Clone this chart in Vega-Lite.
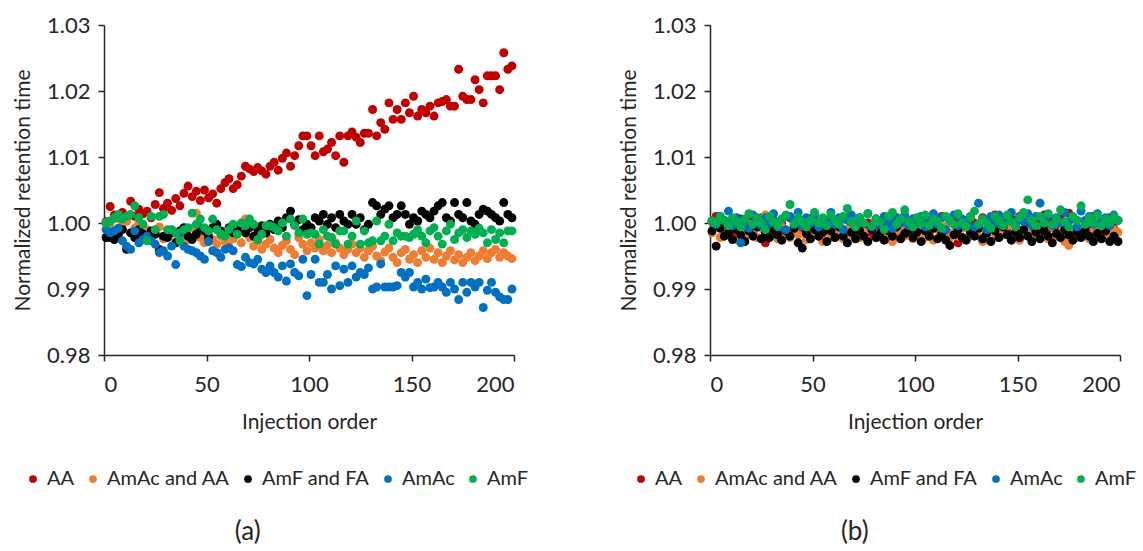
{
"$schema": "https://vega.github.io/schema/vega-lite/v6.json",
"padding": {"left": 12, "top": 14, "right": 0, "bottom": 5},
"background": "white",
"config": {
"font": "Lato",
"view": {"stroke": null},
"axis": {"domainColor": "#262626", "domainWidth": 1.5, "tickColor": "#262626", "tickWidth": 1.5, "tickSize": 6, "grid": false, "labelFont": "Lato", "labelFontSize": 22, "labelColor": "#262626", "titleFont": "Lato", "titleFontSize": 21, "titleFontWeight": "normal", "titleColor": "#262626"},
"axisX": {"labelPadding": 13, "titlePadding": 16},
"axisY": {"labelPadding": 8, "titlePadding": 13},
"legend": {"labelFont": "Lato", "labelFontSize": 20, "labelColor": "#262626", "symbolType": "circle", "symbolSize": 60, "symbolStrokeWidth": 0, "columnPadding": 8, "labelOffset": 4, "padding": 0, "gridAlign": "none"},
"title": {"font": "Lato", "fontSize": 26, "fontWeight": "normal", "color": "#262626"},
"concat": {"spacing": 89}
},
"resolve": {"legend": {"color": "independent"}},
"datasets": {
"a": [
{"series":"AA","inj":1,"rt":1.0002},{"series":"AA","inj":3,"rt":1.0025},{"series":"AA","inj":5,"rt":1.0012},{"series":"AA","inj":7,"rt":1.0008},{"series":"AA","inj":9,"rt":1.0016},{"series":"AA","inj":11,"rt":1.0003},{"series":"AA","inj":13,"rt":1.0033},{"series":"AA","inj":15,"rt":1.0010},{"series":"AA","inj":17,"rt":1.0021},{"series":"AA","inj":19,"rt":1.0014},
{"series":"AA","inj":21,"rt":1.0018},{"series":"AA","inj":23,"rt":1.0008},{"series":"AA","inj":25,"rt":1.0028},{"series":"AA","inj":27,"rt":1.0046},{"series":"AA","inj":29,"rt":1.0022},{"series":"AA","inj":31,"rt":1.0030},{"series":"AA","inj":33,"rt":1.0019},{"series":"AA","inj":35,"rt":1.0037},{"series":"AA","inj":37,"rt":1.0026},{"series":"AA","inj":39,"rt":1.0045},
{"series":"AA","inj":41,"rt":1.0056},{"series":"AA","inj":43,"rt":1.0040},{"series":"AA","inj":45,"rt":1.0048},{"series":"AA","inj":47,"rt":1.0034},{"series":"AA","inj":49,"rt":1.0050},{"series":"AA","inj":51,"rt":1.0038},{"series":"AA","inj":53,"rt":1.0044},{"series":"AA","inj":55,"rt":1.0030},{"series":"AA","inj":57,"rt":1.0052},{"series":"AA","inj":59,"rt":1.0061},
{"series":"AA","inj":61,"rt":1.0067},{"series":"AA","inj":63,"rt":1.0052},{"series":"AA","inj":65,"rt":1.0058},{"series":"AA","inj":67,"rt":1.0071},{"series":"AA","inj":69,"rt":1.0086},{"series":"AA","inj":71,"rt":1.0082},{"series":"AA","inj":73,"rt":1.0078},{"series":"AA","inj":75,"rt":1.0084},{"series":"AA","inj":77,"rt":1.0079},{"series":"AA","inj":79,"rt":1.0074},
{"series":"AA","inj":81,"rt":1.0086},{"series":"AA","inj":83,"rt":1.0092},{"series":"AA","inj":85,"rt":1.0080},{"series":"AA","inj":87,"rt":1.0098},{"series":"AA","inj":89,"rt":1.0106},{"series":"AA","inj":91,"rt":1.0086},{"series":"AA","inj":93,"rt":1.0102},{"series":"AA","inj":95,"rt":1.0117},{"series":"AA","inj":97,"rt":1.0132},{"series":"AA","inj":99,"rt":1.0132},
{"series":"AA","inj":101,"rt":1.0117},{"series":"AA","inj":103,"rt":1.0102},{"series":"AA","inj":105,"rt":1.0132},{"series":"AA","inj":107,"rt":1.0108},{"series":"AA","inj":109,"rt":1.0112},{"series":"AA","inj":111,"rt":1.0122},{"series":"AA","inj":113,"rt":1.0102},{"series":"AA","inj":115,"rt":1.0132},{"series":"AA","inj":117,"rt":1.0092},{"series":"AA","inj":119,"rt":1.0132},
{"series":"AA","inj":121,"rt":1.0138},{"series":"AA","inj":123,"rt":1.0130},{"series":"AA","inj":125,"rt":1.0122},{"series":"AA","inj":127,"rt":1.0136},{"series":"AA","inj":129,"rt":1.0136},{"series":"AA","inj":131,"rt":1.0172},{"series":"AA","inj":133,"rt":1.0132},{"series":"AA","inj":135,"rt":1.0152},{"series":"AA","inj":137,"rt":1.0142},{"series":"AA","inj":139,"rt":1.0182},
{"series":"AA","inj":141,"rt":1.0157},{"series":"AA","inj":143,"rt":1.0172},{"series":"AA","inj":145,"rt":1.0157},{"series":"AA","inj":147,"rt":1.0182},{"series":"AA","inj":149,"rt":1.0167},{"series":"AA","inj":151,"rt":1.0192},{"series":"AA","inj":153,"rt":1.0162},{"series":"AA","inj":155,"rt":1.0172},{"series":"AA","inj":157,"rt":1.0167},{"series":"AA","inj":159,"rt":1.0177},
{"series":"AA","inj":161,"rt":1.0162},{"series":"AA","inj":163,"rt":1.0182},{"series":"AA","inj":165,"rt":1.0184},{"series":"AA","inj":167,"rt":1.0187},{"series":"AA","inj":169,"rt":1.0177},{"series":"AA","inj":171,"rt":1.0177},{"series":"AA","inj":173,"rt":1.0233},{"series":"AA","inj":175,"rt":1.0192},{"series":"AA","inj":177,"rt":1.0187},{"series":"AA","inj":179,"rt":1.0187},
{"series":"AA","inj":181,"rt":1.0217},{"series":"AA","inj":183,"rt":1.0202},{"series":"AA","inj":185,"rt":1.0182},{"series":"AA","inj":187,"rt":1.0223},{"series":"AA","inj":189,"rt":1.0223},{"series":"AA","inj":191,"rt":1.0223},{"series":"AA","inj":193,"rt":1.0202},{"series":"AA","inj":195,"rt":1.0258},{"series":"AA","inj":197,"rt":1.0233},{"series":"AA","inj":199,"rt":1.0238},
{"series":"AmAc and AA","inj":1,"rt":1.0000},{"series":"AmAc and AA","inj":3,"rt":0.9995},{"series":"AmAc and AA","inj":5,"rt":1.0006},{"series":"AmAc and AA","inj":7,"rt":0.9990},{"series":"AmAc and AA","inj":9,"rt":0.9998},{"series":"AmAc and AA","inj":11,"rt":1.0003},{"series":"AmAc and AA","inj":13,"rt":0.9985},{"series":"AmAc and AA","inj":15,"rt":0.9992},{"series":"AmAc and AA","inj":17,"rt":0.9999},{"series":"AmAc and AA","inj":19,"rt":0.9982},
{"series":"AmAc and AA","inj":21,"rt":0.9990},{"series":"AmAc and AA","inj":23,"rt":0.9978},{"series":"AmAc and AA","inj":25,"rt":0.9986},{"series":"AmAc and AA","inj":27,"rt":0.9994},{"series":"AmAc and AA","inj":29,"rt":0.9976},{"series":"AmAc and AA","inj":31,"rt":0.9983},{"series":"AmAc and AA","inj":33,"rt":0.9990},{"series":"AmAc and AA","inj":35,"rt":0.9972},{"series":"AmAc and AA","inj":37,"rt":0.9980},{"series":"AmAc and AA","inj":39,"rt":0.9987},
{"series":"AmAc and AA","inj":41,"rt":0.9975},{"series":"AmAc and AA","inj":43,"rt":0.9992},{"series":"AmAc and AA","inj":45,"rt":1.0015},{"series":"AmAc and AA","inj":47,"rt":0.9978},{"series":"AmAc and AA","inj":49,"rt":0.9970},{"series":"AmAc and AA","inj":51,"rt":0.9982},{"series":"AmAc and AA","inj":53,"rt":0.9975},{"series":"AmAc and AA","inj":55,"rt":0.9968},{"series":"AmAc and AA","inj":57,"rt":0.9980},{"series":"AmAc and AA","inj":59,"rt":0.9972},
{"series":"AmAc and AA","inj":61,"rt":0.9965},{"series":"AmAc and AA","inj":63,"rt":0.9976},{"series":"AmAc and AA","inj":65,"rt":0.9988},{"series":"AmAc and AA","inj":67,"rt":0.9970},{"series":"AmAc and AA","inj":69,"rt":1.0006},{"series":"AmAc and AA","inj":71,"rt":0.9978},{"series":"AmAc and AA","inj":73,"rt":0.9965},{"series":"AmAc and AA","inj":75,"rt":0.9972},{"series":"AmAc and AA","inj":77,"rt":0.9960},{"series":"AmAc and AA","inj":79,"rt":0.9968},
{"series":"AmAc and AA","inj":81,"rt":0.9975},{"series":"AmAc and AA","inj":83,"rt":0.9962},{"series":"AmAc and AA","inj":85,"rt":0.9955},{"series":"AmAc and AA","inj":87,"rt":0.9966},{"series":"AmAc and AA","inj":89,"rt":0.9973},{"series":"AmAc and AA","inj":91,"rt":0.9960},{"series":"AmAc and AA","inj":93,"rt":0.9952},{"series":"AmAc and AA","inj":95,"rt":0.9978},{"series":"AmAc and AA","inj":97,"rt":0.9968},{"series":"AmAc and AA","inj":99,"rt":0.9958},
{"series":"AmAc and AA","inj":101,"rt":0.9970},{"series":"AmAc and AA","inj":103,"rt":0.9962},{"series":"AmAc and AA","inj":105,"rt":0.9975},{"series":"AmAc and AA","inj":107,"rt":0.9958},{"series":"AmAc and AA","inj":109,"rt":0.9966},{"series":"AmAc and AA","inj":111,"rt":0.9955},{"series":"AmAc and AA","inj":113,"rt":0.9970},{"series":"AmAc and AA","inj":115,"rt":0.9962},{"series":"AmAc and AA","inj":117,"rt":0.9952},{"series":"AmAc and AA","inj":119,"rt":0.9960},
{"series":"AmAc and AA","inj":121,"rt":0.9968},{"series":"AmAc and AA","inj":123,"rt":0.9955},{"series":"AmAc and AA","inj":125,"rt":0.9962},{"series":"AmAc and AA","inj":127,"rt":0.9948},{"series":"AmAc and AA","inj":129,"rt":0.9958},{"series":"AmAc and AA","inj":131,"rt":0.9965},{"series":"AmAc and AA","inj":133,"rt":0.9950},{"series":"AmAc and AA","inj":135,"rt":0.9943},{"series":"AmAc and AA","inj":137,"rt":0.9956},{"series":"AmAc and AA","inj":139,"rt":0.9962},
{"series":"AmAc and AA","inj":141,"rt":0.9948},{"series":"AmAc and AA","inj":143,"rt":0.9940},{"series":"AmAc and AA","inj":145,"rt":0.9955},{"series":"AmAc and AA","inj":147,"rt":0.9960},{"series":"AmAc and AA","inj":149,"rt":0.9945},{"series":"AmAc and AA","inj":151,"rt":0.9952},{"series":"AmAc and AA","inj":153,"rt":0.9940},{"series":"AmAc and AA","inj":155,"rt":0.9958},{"series":"AmAc and AA","inj":157,"rt":0.9948},{"series":"AmAc and AA","inj":159,"rt":0.9962},
{"series":"AmAc and AA","inj":161,"rt":0.9945},{"series":"AmAc and AA","inj":163,"rt":0.9955},{"series":"AmAc and AA","inj":165,"rt":0.9940},{"series":"AmAc and AA","inj":167,"rt":0.9950},{"series":"AmAc and AA","inj":169,"rt":0.9958},{"series":"AmAc and AA","inj":171,"rt":0.9944},{"series":"AmAc and AA","inj":173,"rt":0.9952},{"series":"AmAc and AA","inj":175,"rt":0.9940},{"series":"AmAc and AA","inj":177,"rt":0.9948},{"series":"AmAc and AA","inj":179,"rt":0.9955},
{"series":"AmAc and AA","inj":181,"rt":0.9943},{"series":"AmAc and AA","inj":183,"rt":0.9950},{"series":"AmAc and AA","inj":185,"rt":0.9958},{"series":"AmAc and AA","inj":187,"rt":0.9946},{"series":"AmAc and AA","inj":189,"rt":0.9955},{"series":"AmAc and AA","inj":191,"rt":0.9960},{"series":"AmAc and AA","inj":193,"rt":0.9948},{"series":"AmAc and AA","inj":195,"rt":0.9955},{"series":"AmAc and AA","inj":197,"rt":0.9950},{"series":"AmAc and AA","inj":199,"rt":0.9946},
{"series":"AmF and FA","inj":1,"rt":0.9978},{"series":"AmF and FA","inj":3,"rt":0.9978},{"series":"AmF and FA","inj":5,"rt":0.9975},{"series":"AmF and FA","inj":7,"rt":0.9983},{"series":"AmF and FA","inj":9,"rt":0.9990},{"series":"AmF and FA","inj":11,"rt":0.9960},{"series":"AmF and FA","inj":13,"rt":0.9985},{"series":"AmF and FA","inj":15,"rt":0.9978},{"series":"AmF and FA","inj":17,"rt":0.9990},{"series":"AmF and FA","inj":19,"rt":0.9983},
{"series":"AmF and FA","inj":21,"rt":0.9975},{"series":"AmF and FA","inj":23,"rt":0.9988},{"series":"AmF and FA","inj":25,"rt":0.9983},{"series":"AmF and FA","inj":27,"rt":0.9960},{"series":"AmF and FA","inj":29,"rt":0.9980},{"series":"AmF and FA","inj":31,"rt":0.9978},{"series":"AmF and FA","inj":33,"rt":0.9985},{"series":"AmF and FA","inj":35,"rt":0.9970},{"series":"AmF and FA","inj":37,"rt":0.9988},{"series":"AmF and FA","inj":39,"rt":0.9993},
{"series":"AmF and FA","inj":41,"rt":0.9980},{"series":"AmF and FA","inj":43,"rt":0.9975},{"series":"AmF and FA","inj":45,"rt":0.9983},{"series":"AmF and FA","inj":47,"rt":0.9993},{"series":"AmF and FA","inj":49,"rt":0.9988},{"series":"AmF and FA","inj":51,"rt":0.9978},{"series":"AmF and FA","inj":53,"rt":0.9993},{"series":"AmF and FA","inj":55,"rt":0.9998},{"series":"AmF and FA","inj":57,"rt":0.9988},{"series":"AmF and FA","inj":59,"rt":0.9983},
{"series":"AmF and FA","inj":61,"rt":0.9993},{"series":"AmF and FA","inj":63,"rt":0.9985},{"series":"AmF and FA","inj":65,"rt":0.9990},{"series":"AmF and FA","inj":67,"rt":0.9998},{"series":"AmF and FA","inj":69,"rt":0.9985},{"series":"AmF and FA","inj":71,"rt":0.9993},{"series":"AmF and FA","inj":73,"rt":0.9980},{"series":"AmF and FA","inj":75,"rt":0.9990},{"series":"AmF and FA","inj":77,"rt":0.9996},{"series":"AmF and FA","inj":79,"rt":0.9985},
{"series":"AmF and FA","inj":81,"rt":0.9998},{"series":"AmF and FA","inj":83,"rt":0.9990},{"series":"AmF and FA","inj":85,"rt":1.0003},{"series":"AmF and FA","inj":87,"rt":0.9993},{"series":"AmF and FA","inj":89,"rt":1.0008},{"series":"AmF and FA","inj":91,"rt":1.0018},{"series":"AmF and FA","inj":93,"rt":0.9998},{"series":"AmF and FA","inj":95,"rt":1.0005},{"series":"AmF and FA","inj":97,"rt":0.9990},{"series":"AmF and FA","inj":99,"rt":0.9998},
{"series":"AmF and FA","inj":101,"rt":0.9993},{"series":"AmF and FA","inj":103,"rt":1.0008},{"series":"AmF and FA","inj":105,"rt":1.0003},{"series":"AmF and FA","inj":107,"rt":1.0013},{"series":"AmF and FA","inj":109,"rt":0.9998},{"series":"AmF and FA","inj":111,"rt":1.0008},{"series":"AmF and FA","inj":113,"rt":0.9993},{"series":"AmF and FA","inj":115,"rt":1.0013},{"series":"AmF and FA","inj":117,"rt":1.0003},{"series":"AmF and FA","inj":119,"rt":0.9998},
{"series":"AmF and FA","inj":121,"rt":1.0013},{"series":"AmF and FA","inj":123,"rt":0.9998},{"series":"AmF and FA","inj":125,"rt":1.0008},{"series":"AmF and FA","inj":127,"rt":0.9990},{"series":"AmF and FA","inj":129,"rt":0.9998},{"series":"AmF and FA","inj":131,"rt":1.0031},{"series":"AmF and FA","inj":133,"rt":1.0026},{"series":"AmF and FA","inj":135,"rt":1.0013},{"series":"AmF and FA","inj":137,"rt":1.0021},{"series":"AmF and FA","inj":139,"rt":1.0026},
{"series":"AmF and FA","inj":141,"rt":1.0008},{"series":"AmF and FA","inj":143,"rt":1.0013},{"series":"AmF and FA","inj":145,"rt":1.0026},{"series":"AmF and FA","inj":147,"rt":1.0013},{"series":"AmF and FA","inj":149,"rt":0.9998},{"series":"AmF and FA","inj":151,"rt":1.0008},{"series":"AmF and FA","inj":153,"rt":1.0003},{"series":"AmF and FA","inj":155,"rt":1.0018},{"series":"AmF and FA","inj":157,"rt":1.0013},{"series":"AmF and FA","inj":159,"rt":1.0008},
{"series":"AmF and FA","inj":161,"rt":1.0018},{"series":"AmF and FA","inj":163,"rt":1.0026},{"series":"AmF and FA","inj":165,"rt":1.0031},{"series":"AmF and FA","inj":167,"rt":1.0008},{"series":"AmF and FA","inj":169,"rt":1.0003},{"series":"AmF and FA","inj":171,"rt":1.0031},{"series":"AmF and FA","inj":173,"rt":1.0013},{"series":"AmF and FA","inj":175,"rt":1.0008},{"series":"AmF and FA","inj":177,"rt":1.0031},{"series":"AmF and FA","inj":179,"rt":1.0003},
{"series":"AmF and FA","inj":181,"rt":0.9998},{"series":"AmF and FA","inj":183,"rt":1.0013},{"series":"AmF and FA","inj":185,"rt":1.0021},{"series":"AmF and FA","inj":187,"rt":1.0018},{"series":"AmF and FA","inj":189,"rt":1.0013},{"series":"AmF and FA","inj":191,"rt":1.0008},{"series":"AmF and FA","inj":193,"rt":1.0003},{"series":"AmF and FA","inj":195,"rt":1.0031},{"series":"AmF and FA","inj":197,"rt":1.0013},{"series":"AmF and FA","inj":199,"rt":1.0008},
{"series":"AmAc","inj":1,"rt":0.9990},{"series":"AmAc","inj":3,"rt":0.9985},{"series":"AmAc","inj":5,"rt":0.9988},{"series":"AmAc","inj":7,"rt":0.9992},{"series":"AmAc","inj":9,"rt":0.9973},{"series":"AmAc","inj":11,"rt":0.9965},{"series":"AmAc","inj":13,"rt":0.9960},{"series":"AmAc","inj":15,"rt":0.9988},{"series":"AmAc","inj":17,"rt":0.9970},{"series":"AmAc","inj":19,"rt":0.9975},
{"series":"AmAc","inj":21,"rt":0.9980},{"series":"AmAc","inj":23,"rt":0.9973},{"series":"AmAc","inj":25,"rt":0.9968},{"series":"AmAc","inj":27,"rt":0.9955},{"series":"AmAc","inj":29,"rt":0.9958},{"series":"AmAc","inj":31,"rt":0.9950},{"series":"AmAc","inj":33,"rt":0.9965},{"series":"AmAc","inj":35,"rt":0.9937},{"series":"AmAc","inj":37,"rt":0.9985},{"series":"AmAc","inj":39,"rt":0.9965},
{"series":"AmAc","inj":41,"rt":0.9960},{"series":"AmAc","inj":43,"rt":0.9958},{"series":"AmAc","inj":45,"rt":0.9955},{"series":"AmAc","inj":47,"rt":0.9950},{"series":"AmAc","inj":49,"rt":0.9945},{"series":"AmAc","inj":51,"rt":0.9972},{"series":"AmAc","inj":53,"rt":0.9958},{"series":"AmAc","inj":55,"rt":0.9955},{"series":"AmAc","inj":57,"rt":0.9948},{"series":"AmAc","inj":59,"rt":0.9960},
{"series":"AmAc","inj":61,"rt":0.9962},{"series":"AmAc","inj":63,"rt":0.9958},{"series":"AmAc","inj":65,"rt":0.9937},{"series":"AmAc","inj":67,"rt":0.9934},{"series":"AmAc","inj":69,"rt":0.9948},{"series":"AmAc","inj":71,"rt":0.9940},{"series":"AmAc","inj":73,"rt":0.9938},{"series":"AmAc","inj":75,"rt":0.9945},{"series":"AmAc","inj":77,"rt":0.9930},{"series":"AmAc","inj":79,"rt":0.9925},
{"series":"AmAc","inj":81,"rt":0.9935},{"series":"AmAc","inj":83,"rt":0.9925},{"series":"AmAc","inj":85,"rt":0.9918},{"series":"AmAc","inj":87,"rt":0.9935},{"series":"AmAc","inj":89,"rt":0.9912},{"series":"AmAc","inj":91,"rt":0.9938},{"series":"AmAc","inj":93,"rt":0.9925},{"series":"AmAc","inj":95,"rt":0.9920},{"series":"AmAc","inj":97,"rt":0.9945},{"series":"AmAc","inj":99,"rt":0.9890},
{"series":"AmAc","inj":101,"rt":0.9922},{"series":"AmAc","inj":103,"rt":0.9945},{"series":"AmAc","inj":105,"rt":0.9910},{"series":"AmAc","inj":107,"rt":0.9910},{"series":"AmAc","inj":109,"rt":0.9922},{"series":"AmAc","inj":111,"rt":0.9900},{"series":"AmAc","inj":113,"rt":0.9935},{"series":"AmAc","inj":115,"rt":0.9905},{"series":"AmAc","inj":117,"rt":0.9930},{"series":"AmAc","inj":119,"rt":0.9910},
{"series":"AmAc","inj":121,"rt":0.9935},{"series":"AmAc","inj":123,"rt":0.9918},{"series":"AmAc","inj":125,"rt":0.9925},{"series":"AmAc","inj":127,"rt":0.9922},{"series":"AmAc","inj":129,"rt":0.9932},{"series":"AmAc","inj":131,"rt":0.9900},{"series":"AmAc","inj":133,"rt":0.9903},{"series":"AmAc","inj":135,"rt":0.9938},{"series":"AmAc","inj":137,"rt":0.9903},{"series":"AmAc","inj":139,"rt":0.9903},
{"series":"AmAc","inj":141,"rt":0.9903},{"series":"AmAc","inj":143,"rt":0.9905},{"series":"AmAc","inj":145,"rt":0.9925},{"series":"AmAc","inj":147,"rt":0.9918},{"series":"AmAc","inj":149,"rt":0.9925},{"series":"AmAc","inj":151,"rt":0.9903},{"series":"AmAc","inj":153,"rt":0.9910},{"series":"AmAc","inj":155,"rt":0.9900},{"series":"AmAc","inj":157,"rt":0.9915},{"series":"AmAc","inj":159,"rt":0.9902},
{"series":"AmAc","inj":161,"rt":0.9903},{"series":"AmAc","inj":163,"rt":0.9910},{"series":"AmAc","inj":165,"rt":0.9903},{"series":"AmAc","inj":167,"rt":0.9895},{"series":"AmAc","inj":169,"rt":0.9910},{"series":"AmAc","inj":171,"rt":0.9900},{"series":"AmAc","inj":173,"rt":0.9884},{"series":"AmAc","inj":175,"rt":0.9910},{"series":"AmAc","inj":177,"rt":0.9895},{"series":"AmAc","inj":179,"rt":0.9910},
{"series":"AmAc","inj":181,"rt":0.9903},{"series":"AmAc","inj":183,"rt":0.9910},{"series":"AmAc","inj":185,"rt":0.9872},{"series":"AmAc","inj":187,"rt":0.9898},{"series":"AmAc","inj":189,"rt":0.9910},{"series":"AmAc","inj":191,"rt":0.9895},{"series":"AmAc","inj":193,"rt":0.9888},{"series":"AmAc","inj":195,"rt":0.9884},{"series":"AmAc","inj":197,"rt":0.9884},{"series":"AmAc","inj":199,"rt":0.9900},
{"series":"AmF","inj":1,"rt":1.0000},{"series":"AmF","inj":3,"rt":1.0003},{"series":"AmF","inj":5,"rt":1.0008},{"series":"AmF","inj":7,"rt":1.0013},{"series":"AmF","inj":9,"rt":1.0006},{"series":"AmF","inj":11,"rt":1.0010},{"series":"AmF","inj":13,"rt":1.0013},{"series":"AmF","inj":15,"rt":1.0026},{"series":"AmF","inj":17,"rt":1.0008},{"series":"AmF","inj":19,"rt":0.9998},
{"series":"AmF","inj":21,"rt":0.9973},{"series":"AmF","inj":23,"rt":1.0010},{"series":"AmF","inj":25,"rt":0.9990},{"series":"AmF","inj":27,"rt":1.0010},{"series":"AmF","inj":29,"rt":1.0013},{"series":"AmF","inj":31,"rt":0.9990},{"series":"AmF","inj":33,"rt":0.9990},{"series":"AmF","inj":35,"rt":0.9985},{"series":"AmF","inj":37,"rt":0.9973},{"series":"AmF","inj":39,"rt":0.9990},
{"series":"AmF","inj":41,"rt":0.9993},{"series":"AmF","inj":43,"rt":1.0015},{"series":"AmF","inj":45,"rt":0.9998},{"series":"AmF","inj":47,"rt":1.0006},{"series":"AmF","inj":49,"rt":0.9993},{"series":"AmF","inj":51,"rt":0.9988},{"series":"AmF","inj":53,"rt":1.0006},{"series":"AmF","inj":55,"rt":0.9990},{"series":"AmF","inj":57,"rt":0.9983},{"series":"AmF","inj":59,"rt":0.9980},
{"series":"AmF","inj":61,"rt":0.9990},{"series":"AmF","inj":63,"rt":0.9998},{"series":"AmF","inj":65,"rt":0.9983},{"series":"AmF","inj":67,"rt":1.0000},{"series":"AmF","inj":69,"rt":0.9996},{"series":"AmF","inj":71,"rt":1.0006},{"series":"AmF","inj":73,"rt":0.9998},{"series":"AmF","inj":75,"rt":0.9975},{"series":"AmF","inj":77,"rt":0.9983},{"series":"AmF","inj":79,"rt":0.9996},
{"series":"AmF","inj":81,"rt":0.9996},{"series":"AmF","inj":83,"rt":0.9993},{"series":"AmF","inj":85,"rt":0.9988},{"series":"AmF","inj":87,"rt":1.0000},{"series":"AmF","inj":89,"rt":0.9980},{"series":"AmF","inj":91,"rt":1.0006},{"series":"AmF","inj":93,"rt":0.9996},{"series":"AmF","inj":95,"rt":0.9985},{"series":"AmF","inj":97,"rt":1.0006},{"series":"AmF","inj":99,"rt":0.9983},
{"series":"AmF","inj":101,"rt":0.9985},{"series":"AmF","inj":103,"rt":0.9983},{"series":"AmF","inj":105,"rt":0.9968},{"series":"AmF","inj":107,"rt":0.9990},{"series":"AmF","inj":109,"rt":0.9980},{"series":"AmF","inj":111,"rt":0.9978},{"series":"AmF","inj":113,"rt":0.9968},{"series":"AmF","inj":115,"rt":0.9988},{"series":"AmF","inj":117,"rt":0.9988},{"series":"AmF","inj":119,"rt":0.9968},
{"series":"AmF","inj":121,"rt":0.9980},{"series":"AmF","inj":123,"rt":1.0003},{"series":"AmF","inj":125,"rt":0.9968},{"series":"AmF","inj":127,"rt":0.9988},{"series":"AmF","inj":129,"rt":0.9970},{"series":"AmF","inj":131,"rt":0.9973},{"series":"AmF","inj":133,"rt":1.0003},{"series":"AmF","inj":135,"rt":0.9973},{"series":"AmF","inj":137,"rt":0.9980},{"series":"AmF","inj":139,"rt":0.9998},
{"series":"AmF","inj":141,"rt":0.9973},{"series":"AmF","inj":143,"rt":0.9985},{"series":"AmF","inj":145,"rt":0.9980},{"series":"AmF","inj":147,"rt":0.9980},{"series":"AmF","inj":149,"rt":0.9978},{"series":"AmF","inj":151,"rt":0.9983},{"series":"AmF","inj":153,"rt":0.9990},{"series":"AmF","inj":155,"rt":0.9980},{"series":"AmF","inj":157,"rt":0.9970},{"series":"AmF","inj":159,"rt":0.9988},
{"series":"AmF","inj":161,"rt":0.9993},{"series":"AmF","inj":163,"rt":0.9980},{"series":"AmF","inj":165,"rt":0.9968},{"series":"AmF","inj":167,"rt":0.9988},{"series":"AmF","inj":169,"rt":0.9998},{"series":"AmF","inj":171,"rt":0.9975},{"series":"AmF","inj":173,"rt":0.9985},{"series":"AmF","inj":175,"rt":0.9990},{"series":"AmF","inj":177,"rt":0.9978},{"series":"AmF","inj":179,"rt":0.9988},
{"series":"AmF","inj":181,"rt":0.9983},{"series":"AmF","inj":183,"rt":0.9992},{"series":"AmF","inj":185,"rt":0.9985},{"series":"AmF","inj":187,"rt":0.9970},{"series":"AmF","inj":189,"rt":0.9990},{"series":"AmF","inj":191,"rt":0.9975},{"series":"AmF","inj":193,"rt":0.9985},{"series":"AmF","inj":195,"rt":0.9970},{"series":"AmF","inj":197,"rt":0.9988},{"series":"AmF","inj":199,"rt":0.9988}
],
"b": [
{"series":"AA","inj":1,"rt":1.0002},{"series":"AA","inj":3,"rt":1.0010},{"series":"AA","inj":5,"rt":0.9995},{"series":"AA","inj":7,"rt":1.0004},{"series":"AA","inj":9,"rt":0.9990},{"series":"AA","inj":11,"rt":1.0000},{"series":"AA","inj":13,"rt":0.9985},{"series":"AA","inj":15,"rt":1.0006},{"series":"AA","inj":17,"rt":0.9992},{"series":"AA","inj":19,"rt":1.0002},
{"series":"AA","inj":21,"rt":0.9988},{"series":"AA","inj":23,"rt":0.9998},{"series":"AA","inj":25,"rt":1.0008},{"series":"AA","inj":27,"rt":0.9970},{"series":"AA","inj":29,"rt":0.9996},{"series":"AA","inj":31,"rt":1.0004},{"series":"AA","inj":33,"rt":0.9990},{"series":"AA","inj":35,"rt":1.0000},{"series":"AA","inj":37,"rt":0.9985},{"series":"AA","inj":39,"rt":1.0008},
{"series":"AA","inj":41,"rt":0.9994},{"series":"AA","inj":43,"rt":1.0002},{"series":"AA","inj":45,"rt":0.9988},{"series":"AA","inj":47,"rt":0.9998},{"series":"AA","inj":49,"rt":1.0006},{"series":"AA","inj":51,"rt":0.9992},{"series":"AA","inj":53,"rt":1.0000},{"series":"AA","inj":55,"rt":0.9985},{"series":"AA","inj":57,"rt":1.0004},{"series":"AA","inj":59,"rt":0.9995},
{"series":"AA","inj":61,"rt":0.9980},{"series":"AA","inj":63,"rt":1.0002},{"series":"AA","inj":65,"rt":0.9990},{"series":"AA","inj":67,"rt":1.0008},{"series":"AA","inj":69,"rt":0.9996},{"series":"AA","inj":71,"rt":0.9986},{"series":"AA","inj":73,"rt":1.0004},{"series":"AA","inj":75,"rt":0.9994},{"series":"AA","inj":77,"rt":1.0000},{"series":"AA","inj":79,"rt":0.9982},
{"series":"AA","inj":81,"rt":1.0006},{"series":"AA","inj":83,"rt":0.9992},{"series":"AA","inj":85,"rt":1.0002},{"series":"AA","inj":87,"rt":0.9988},{"series":"AA","inj":89,"rt":0.9998},{"series":"AA","inj":91,"rt":1.0008},{"series":"AA","inj":93,"rt":0.9985},{"series":"AA","inj":95,"rt":1.0000},{"series":"AA","inj":97,"rt":0.9994},{"series":"AA","inj":99,"rt":1.0006},
{"series":"AA","inj":101,"rt":0.9990},{"series":"AA","inj":103,"rt":0.9998},{"series":"AA","inj":105,"rt":1.0004},{"series":"AA","inj":107,"rt":0.9986},{"series":"AA","inj":109,"rt":1.0000},{"series":"AA","inj":111,"rt":0.9992},{"series":"AA","inj":113,"rt":1.0010},{"series":"AA","inj":115,"rt":0.9995},{"series":"AA","inj":117,"rt":0.9984},{"series":"AA","inj":119,"rt":1.0002},
{"series":"AA","inj":121,"rt":0.9970},{"series":"AA","inj":123,"rt":0.9996},{"series":"AA","inj":125,"rt":1.0004},{"series":"AA","inj":127,"rt":0.9988},{"series":"AA","inj":129,"rt":1.0000},{"series":"AA","inj":131,"rt":0.9992},{"series":"AA","inj":133,"rt":1.0008},{"series":"AA","inj":135,"rt":0.9985},{"series":"AA","inj":137,"rt":0.9998},{"series":"AA","inj":139,"rt":1.0012},
{"series":"AA","inj":141,"rt":0.9994},{"series":"AA","inj":143,"rt":1.0002},{"series":"AA","inj":145,"rt":0.9986},{"series":"AA","inj":147,"rt":1.0006},{"series":"AA","inj":149,"rt":0.9996},{"series":"AA","inj":151,"rt":1.0010},{"series":"AA","inj":153,"rt":0.9990},{"series":"AA","inj":155,"rt":1.0000},{"series":"AA","inj":157,"rt":0.9984},{"series":"AA","inj":159,"rt":1.0004},
{"series":"AA","inj":161,"rt":0.9994},{"series":"AA","inj":163,"rt":1.0012},{"series":"AA","inj":165,"rt":0.9992},{"series":"AA","inj":167,"rt":1.0002},{"series":"AA","inj":169,"rt":0.9988},{"series":"AA","inj":171,"rt":1.0006},{"series":"AA","inj":173,"rt":0.9998},{"series":"AA","inj":175,"rt":1.0015},{"series":"AA","inj":177,"rt":0.9990},{"series":"AA","inj":179,"rt":1.0004},
{"series":"AA","inj":181,"rt":0.9986},{"series":"AA","inj":183,"rt":1.0000},{"series":"AA","inj":185,"rt":0.9994},{"series":"AA","inj":187,"rt":1.0010},{"series":"AA","inj":189,"rt":0.9990},{"series":"AA","inj":191,"rt":1.0002},{"series":"AA","inj":193,"rt":0.9996},{"series":"AA","inj":195,"rt":1.0008},{"series":"AA","inj":197,"rt":0.9992},{"series":"AA","inj":199,"rt":1.0004},
{"series":"AmAc and AA","inj":1,"rt":0.9985},{"series":"AmAc and AA","inj":3,"rt":1.0000},{"series":"AmAc and AA","inj":5,"rt":0.9978},{"series":"AmAc and AA","inj":7,"rt":0.9990},{"series":"AmAc and AA","inj":9,"rt":0.9982},{"series":"AmAc and AA","inj":11,"rt":0.9995},{"series":"AmAc and AA","inj":13,"rt":0.9975},{"series":"AmAc and AA","inj":15,"rt":0.9988},{"series":"AmAc and AA","inj":17,"rt":0.9980},{"series":"AmAc and AA","inj":19,"rt":0.9998},
{"series":"AmAc and AA","inj":21,"rt":0.9985},{"series":"AmAc and AA","inj":23,"rt":0.9978},{"series":"AmAc and AA","inj":25,"rt":0.9992},{"series":"AmAc and AA","inj":27,"rt":1.0012},{"series":"AmAc and AA","inj":29,"rt":0.9982},{"series":"AmAc and AA","inj":31,"rt":0.9988},{"series":"AmAc and AA","inj":33,"rt":0.9976},{"series":"AmAc and AA","inj":35,"rt":0.9994},{"series":"AmAc and AA","inj":37,"rt":0.9984},{"series":"AmAc and AA","inj":39,"rt":0.9978},
{"series":"AmAc and AA","inj":41,"rt":0.9990},{"series":"AmAc and AA","inj":43,"rt":0.9982},{"series":"AmAc and AA","inj":45,"rt":0.9996},{"series":"AmAc and AA","inj":47,"rt":0.9975},{"series":"AmAc and AA","inj":49,"rt":0.9986},{"series":"AmAc and AA","inj":51,"rt":0.9992},{"series":"AmAc and AA","inj":53,"rt":0.9980},{"series":"AmAc and AA","inj":55,"rt":0.9972},{"series":"AmAc and AA","inj":57,"rt":0.9988},{"series":"AmAc and AA","inj":59,"rt":0.9978},
{"series":"AmAc and AA","inj":61,"rt":0.9994},{"series":"AmAc and AA","inj":63,"rt":0.9983},{"series":"AmAc and AA","inj":65,"rt":0.9976},{"series":"AmAc and AA","inj":67,"rt":0.9990},{"series":"AmAc and AA","inj":69,"rt":0.9982},{"series":"AmAc and AA","inj":71,"rt":0.9996},{"series":"AmAc and AA","inj":73,"rt":0.9978},{"series":"AmAc and AA","inj":75,"rt":0.9986},{"series":"AmAc and AA","inj":77,"rt":0.9974},{"series":"AmAc and AA","inj":79,"rt":0.9992},
{"series":"AmAc and AA","inj":81,"rt":0.9984},{"series":"AmAc and AA","inj":83,"rt":0.9978},{"series":"AmAc and AA","inj":85,"rt":0.9990},{"series":"AmAc and AA","inj":87,"rt":0.9980},{"series":"AmAc and AA","inj":89,"rt":0.9972},{"series":"AmAc and AA","inj":91,"rt":0.9986},{"series":"AmAc and AA","inj":93,"rt":0.9994},{"series":"AmAc and AA","inj":95,"rt":0.9980},{"series":"AmAc and AA","inj":97,"rt":0.9988},{"series":"AmAc and AA","inj":99,"rt":0.9976},
{"series":"AmAc and AA","inj":101,"rt":0.9984},{"series":"AmAc and AA","inj":103,"rt":0.9992},{"series":"AmAc and AA","inj":105,"rt":0.9978},{"series":"AmAc and AA","inj":107,"rt":0.9986},{"series":"AmAc and AA","inj":109,"rt":0.9974},{"series":"AmAc and AA","inj":111,"rt":0.9990},{"series":"AmAc and AA","inj":113,"rt":0.9982},{"series":"AmAc and AA","inj":115,"rt":0.9995},{"series":"AmAc and AA","inj":117,"rt":0.9978},{"series":"AmAc and AA","inj":119,"rt":0.9986},
{"series":"AmAc and AA","inj":121,"rt":0.9980},{"series":"AmAc and AA","inj":123,"rt":0.9992},{"series":"AmAc and AA","inj":125,"rt":0.9976},{"series":"AmAc and AA","inj":127,"rt":0.9984},{"series":"AmAc and AA","inj":129,"rt":0.9990},{"series":"AmAc and AA","inj":131,"rt":0.9980},{"series":"AmAc and AA","inj":133,"rt":0.9972},{"series":"AmAc and AA","inj":135,"rt":0.9986},{"series":"AmAc and AA","inj":137,"rt":0.9994},{"series":"AmAc and AA","inj":139,"rt":0.9978},
{"series":"AmAc and AA","inj":141,"rt":0.9988},{"series":"AmAc and AA","inj":143,"rt":0.9982},{"series":"AmAc and AA","inj":145,"rt":0.9996},{"series":"AmAc and AA","inj":147,"rt":0.9980},{"series":"AmAc and AA","inj":149,"rt":0.9986},{"series":"AmAc and AA","inj":151,"rt":0.9974},{"series":"AmAc and AA","inj":153,"rt":0.9990},{"series":"AmAc and AA","inj":155,"rt":0.9984},{"series":"AmAc and AA","inj":157,"rt":0.9978},{"series":"AmAc and AA","inj":159,"rt":0.9992},
{"series":"AmAc and AA","inj":161,"rt":0.9982},{"series":"AmAc and AA","inj":163,"rt":0.9988},{"series":"AmAc and AA","inj":165,"rt":0.9976},{"series":"AmAc and AA","inj":167,"rt":0.9994},{"series":"AmAc and AA","inj":169,"rt":0.9980},{"series":"AmAc and AA","inj":171,"rt":0.9986},{"series":"AmAc and AA","inj":173,"rt":0.9972},{"series":"AmAc and AA","inj":175,"rt":0.9966},{"series":"AmAc and AA","inj":177,"rt":0.9984},{"series":"AmAc and AA","inj":179,"rt":0.9978},
{"series":"AmAc and AA","inj":181,"rt":0.9990},{"series":"AmAc and AA","inj":183,"rt":0.9982},{"series":"AmAc and AA","inj":185,"rt":0.9976},{"series":"AmAc and AA","inj":187,"rt":0.9988},{"series":"AmAc and AA","inj":189,"rt":0.9980},{"series":"AmAc and AA","inj":191,"rt":0.9994},{"series":"AmAc and AA","inj":193,"rt":0.9984},{"series":"AmAc and AA","inj":195,"rt":0.9978},{"series":"AmAc and AA","inj":197,"rt":0.9990},{"series":"AmAc and AA","inj":199,"rt":0.9986},
{"series":"AmF and FA","inj":1,"rt":0.9988},{"series":"AmF and FA","inj":3,"rt":0.9965},{"series":"AmF and FA","inj":5,"rt":0.9992},{"series":"AmF and FA","inj":7,"rt":0.9980},{"series":"AmF and FA","inj":9,"rt":0.9985},{"series":"AmF and FA","inj":11,"rt":0.9975},{"series":"AmF and FA","inj":13,"rt":0.9990},{"series":"AmF and FA","inj":15,"rt":0.9982},{"series":"AmF and FA","inj":17,"rt":0.9972},{"series":"AmF and FA","inj":19,"rt":0.9988},
{"series":"AmF and FA","inj":21,"rt":0.9980},{"series":"AmF and FA","inj":23,"rt":0.9994},{"series":"AmF and FA","inj":25,"rt":0.9976},{"series":"AmF and FA","inj":27,"rt":0.9986},{"series":"AmF and FA","inj":29,"rt":0.9978},{"series":"AmF and FA","inj":31,"rt":0.9990},{"series":"AmF and FA","inj":33,"rt":0.9982},{"series":"AmF and FA","inj":35,"rt":0.9974},{"series":"AmF and FA","inj":37,"rt":0.9988},{"series":"AmF and FA","inj":39,"rt":0.9980},
{"series":"AmF and FA","inj":41,"rt":0.9992},{"series":"AmF and FA","inj":43,"rt":0.9970},{"series":"AmF and FA","inj":45,"rt":0.9962},{"series":"AmF and FA","inj":47,"rt":0.9984},{"series":"AmF and FA","inj":49,"rt":0.9976},{"series":"AmF and FA","inj":51,"rt":0.9990},{"series":"AmF and FA","inj":53,"rt":0.9980},{"series":"AmF and FA","inj":55,"rt":0.9986},{"series":"AmF and FA","inj":57,"rt":0.9972},{"series":"AmF and FA","inj":59,"rt":0.9988},
{"series":"AmF and FA","inj":61,"rt":0.9978},{"series":"AmF and FA","inj":63,"rt":0.9994},{"series":"AmF and FA","inj":65,"rt":0.9980},{"series":"AmF and FA","inj":67,"rt":0.9970},{"series":"AmF and FA","inj":69,"rt":0.9986},{"series":"AmF and FA","inj":71,"rt":0.9976},{"series":"AmF and FA","inj":73,"rt":0.9988},{"series":"AmF and FA","inj":75,"rt":0.9980},{"series":"AmF and FA","inj":77,"rt":0.9972},{"series":"AmF and FA","inj":79,"rt":0.9990},
{"series":"AmF and FA","inj":81,"rt":0.9978},{"series":"AmF and FA","inj":83,"rt":0.9984},{"series":"AmF and FA","inj":85,"rt":0.9974},{"series":"AmF and FA","inj":87,"rt":0.9988},{"series":"AmF and FA","inj":89,"rt":0.9980},{"series":"AmF and FA","inj":91,"rt":0.9994},{"series":"AmF and FA","inj":93,"rt":0.9976},{"series":"AmF and FA","inj":95,"rt":0.9984},{"series":"AmF and FA","inj":97,"rt":0.9990},{"series":"AmF and FA","inj":99,"rt":0.9978},
{"series":"AmF and FA","inj":101,"rt":0.9986},{"series":"AmF and FA","inj":103,"rt":0.9972},{"series":"AmF and FA","inj":105,"rt":0.9988},{"series":"AmF and FA","inj":107,"rt":0.9980},{"series":"AmF and FA","inj":109,"rt":0.9992},{"series":"AmF and FA","inj":111,"rt":0.9976},{"series":"AmF and FA","inj":113,"rt":0.9984},{"series":"AmF and FA","inj":115,"rt":0.9974},{"series":"AmF and FA","inj":117,"rt":0.9966},{"series":"AmF and FA","inj":119,"rt":0.9982},
{"series":"AmF and FA","inj":121,"rt":0.9990},{"series":"AmF and FA","inj":123,"rt":0.9978},{"series":"AmF and FA","inj":125,"rt":0.9974},{"series":"AmF and FA","inj":127,"rt":0.9986},{"series":"AmF and FA","inj":129,"rt":0.9980},{"series":"AmF and FA","inj":131,"rt":0.9992},{"series":"AmF and FA","inj":133,"rt":0.9976},{"series":"AmF and FA","inj":135,"rt":0.9984},{"series":"AmF and FA","inj":137,"rt":0.9972},{"series":"AmF and FA","inj":139,"rt":0.9988},
{"series":"AmF and FA","inj":141,"rt":0.9978},{"series":"AmF and FA","inj":143,"rt":0.9994},{"series":"AmF and FA","inj":145,"rt":0.9982},{"series":"AmF and FA","inj":147,"rt":0.9974},{"series":"AmF and FA","inj":149,"rt":0.9986},{"series":"AmF and FA","inj":151,"rt":0.9978},{"series":"AmF and FA","inj":153,"rt":0.9990},{"series":"AmF and FA","inj":155,"rt":0.9980},{"series":"AmF and FA","inj":157,"rt":0.9972},{"series":"AmF and FA","inj":159,"rt":0.9986},
{"series":"AmF and FA","inj":161,"rt":0.9976},{"series":"AmF and FA","inj":163,"rt":0.9988},{"series":"AmF and FA","inj":165,"rt":0.9980},{"series":"AmF and FA","inj":167,"rt":0.9970},{"series":"AmF and FA","inj":169,"rt":0.9984},{"series":"AmF and FA","inj":171,"rt":0.9978},{"series":"AmF and FA","inj":173,"rt":0.9990},{"series":"AmF and FA","inj":175,"rt":0.9982},{"series":"AmF and FA","inj":177,"rt":0.9974},{"series":"AmF and FA","inj":179,"rt":0.9986},
{"series":"AmF and FA","inj":181,"rt":0.9978},{"series":"AmF and FA","inj":183,"rt":0.9988},{"series":"AmF and FA","inj":185,"rt":0.9980},{"series":"AmF and FA","inj":187,"rt":0.9972},{"series":"AmF and FA","inj":189,"rt":0.9984},{"series":"AmF and FA","inj":191,"rt":0.9976},{"series":"AmF and FA","inj":193,"rt":0.9988},{"series":"AmF and FA","inj":195,"rt":0.9972},{"series":"AmF and FA","inj":197,"rt":0.9980},{"series":"AmF and FA","inj":199,"rt":0.9972},
{"series":"AmAc","inj":1,"rt":1.0003},{"series":"AmAc","inj":3,"rt":0.9998},{"series":"AmAc","inj":5,"rt":1.0010},{"series":"AmAc","inj":7,"rt":1.0004},{"series":"AmAc","inj":9,"rt":1.0018},{"series":"AmAc","inj":11,"rt":0.9996},{"series":"AmAc","inj":13,"rt":1.0008},{"series":"AmAc","inj":15,"rt":0.9970},{"series":"AmAc","inj":17,"rt":1.0004},{"series":"AmAc","inj":19,"rt":0.9992},
{"series":"AmAc","inj":21,"rt":1.0012},{"series":"AmAc","inj":23,"rt":1.0002},{"series":"AmAc","inj":25,"rt":0.9996},{"series":"AmAc","inj":27,"rt":1.0008},{"series":"AmAc","inj":29,"rt":1.0000},{"series":"AmAc","inj":31,"rt":1.0014},{"series":"AmAc","inj":33,"rt":0.9994},{"series":"AmAc","inj":35,"rt":1.0006},{"series":"AmAc","inj":37,"rt":0.9990},{"series":"AmAc","inj":39,"rt":1.0010},
{"series":"AmAc","inj":41,"rt":1.0002},{"series":"AmAc","inj":43,"rt":1.0016},{"series":"AmAc","inj":45,"rt":0.9996},{"series":"AmAc","inj":47,"rt":1.0008},{"series":"AmAc","inj":49,"rt":1.0000},{"series":"AmAc","inj":51,"rt":1.0012},{"series":"AmAc","inj":53,"rt":0.9994},{"series":"AmAc","inj":55,"rt":1.0006},{"series":"AmAc","inj":57,"rt":1.0000},{"series":"AmAc","inj":59,"rt":1.0016},
{"series":"AmAc","inj":61,"rt":0.9998},{"series":"AmAc","inj":63,"rt":1.0008},{"series":"AmAc","inj":65,"rt":0.9990},{"series":"AmAc","inj":67,"rt":1.0004},{"series":"AmAc","inj":69,"rt":1.0012},{"series":"AmAc","inj":71,"rt":0.9996},{"series":"AmAc","inj":73,"rt":1.0008},{"series":"AmAc","inj":75,"rt":1.0000},{"series":"AmAc","inj":77,"rt":1.0014},{"series":"AmAc","inj":79,"rt":0.9994},
{"series":"AmAc","inj":81,"rt":1.0006},{"series":"AmAc","inj":83,"rt":0.9998},{"series":"AmAc","inj":85,"rt":1.0010},{"series":"AmAc","inj":87,"rt":1.0002},{"series":"AmAc","inj":89,"rt":0.9992},{"series":"AmAc","inj":91,"rt":1.0008},{"series":"AmAc","inj":93,"rt":1.0000},{"series":"AmAc","inj":95,"rt":1.0012},{"series":"AmAc","inj":97,"rt":0.9996},{"series":"AmAc","inj":99,"rt":1.0006},
{"series":"AmAc","inj":101,"rt":1.0000},{"series":"AmAc","inj":103,"rt":1.0010},{"series":"AmAc","inj":105,"rt":0.9994},{"series":"AmAc","inj":107,"rt":1.0004},{"series":"AmAc","inj":109,"rt":1.0014},{"series":"AmAc","inj":111,"rt":0.9998},{"series":"AmAc","inj":113,"rt":1.0008},{"series":"AmAc","inj":115,"rt":0.9990},{"series":"AmAc","inj":117,"rt":1.0004},{"series":"AmAc","inj":119,"rt":1.0012},
{"series":"AmAc","inj":121,"rt":0.9996},{"series":"AmAc","inj":123,"rt":1.0006},{"series":"AmAc","inj":125,"rt":1.0000},{"series":"AmAc","inj":127,"rt":1.0010},{"series":"AmAc","inj":129,"rt":0.9994},{"series":"AmAc","inj":131,"rt":1.0030},{"series":"AmAc","inj":133,"rt":1.0004},{"series":"AmAc","inj":135,"rt":0.9990},{"series":"AmAc","inj":137,"rt":1.0010},{"series":"AmAc","inj":139,"rt":1.0000},
{"series":"AmAc","inj":141,"rt":1.0012},{"series":"AmAc","inj":143,"rt":0.9996},{"series":"AmAc","inj":145,"rt":1.0006},{"series":"AmAc","inj":147,"rt":1.0016},{"series":"AmAc","inj":149,"rt":0.9998},{"series":"AmAc","inj":151,"rt":1.0008},{"series":"AmAc","inj":153,"rt":1.0002},{"series":"AmAc","inj":155,"rt":1.0014},{"series":"AmAc","inj":157,"rt":0.9996},{"series":"AmAc","inj":159,"rt":1.0010},
{"series":"AmAc","inj":161,"rt":1.0030},{"series":"AmAc","inj":163,"rt":1.0004},{"series":"AmAc","inj":165,"rt":1.0012},{"series":"AmAc","inj":167,"rt":0.9996},{"series":"AmAc","inj":169,"rt":1.0008},{"series":"AmAc","inj":171,"rt":1.0000},{"series":"AmAc","inj":173,"rt":1.0016},{"series":"AmAc","inj":175,"rt":1.0002},{"series":"AmAc","inj":177,"rt":1.0008},{"series":"AmAc","inj":179,"rt":0.9994},
{"series":"AmAc","inj":181,"rt":1.0018},{"series":"AmAc","inj":183,"rt":1.0004},{"series":"AmAc","inj":185,"rt":1.0010},{"series":"AmAc","inj":187,"rt":0.9998},{"series":"AmAc","inj":189,"rt":1.0014},{"series":"AmAc","inj":191,"rt":1.0002},{"series":"AmAc","inj":193,"rt":1.0008},{"series":"AmAc","inj":195,"rt":0.9996},{"series":"AmAc","inj":197,"rt":1.0012},{"series":"AmAc","inj":199,"rt":1.0004},
{"series":"AmF","inj":1,"rt":1.0003},{"series":"AmF","inj":3,"rt":1.0000},{"series":"AmF","inj":5,"rt":1.0010},{"series":"AmF","inj":7,"rt":1.0004},{"series":"AmF","inj":9,"rt":0.9996},{"series":"AmF","inj":11,"rt":1.0008},{"series":"AmF","inj":13,"rt":1.0002},{"series":"AmF","inj":15,"rt":0.9994},{"series":"AmF","inj":17,"rt":1.0006},{"series":"AmF","inj":19,"rt":1.0014},
{"series":"AmF","inj":21,"rt":0.9998},{"series":"AmF","inj":23,"rt":1.0008},{"series":"AmF","inj":25,"rt":1.0000},{"series":"AmF","inj":27,"rt":0.9990},{"series":"AmF","inj":29,"rt":1.0010},{"series":"AmF","inj":31,"rt":1.0002},{"series":"AmF","inj":33,"rt":0.9996},{"series":"AmF","inj":35,"rt":1.0006},{"series":"AmF","inj":37,"rt":1.0012},{"series":"AmF","inj":39,"rt":1.0028},
{"series":"AmF","inj":41,"rt":0.9998},{"series":"AmF","inj":43,"rt":1.0008},{"series":"AmF","inj":45,"rt":1.0002},{"series":"AmF","inj":47,"rt":0.9994},{"series":"AmF","inj":49,"rt":1.0004},{"series":"AmF","inj":51,"rt":1.0016},{"series":"AmF","inj":53,"rt":1.0000},{"series":"AmF","inj":55,"rt":1.0008},{"series":"AmF","inj":57,"rt":0.9996},{"series":"AmF","inj":59,"rt":1.0012},
{"series":"AmF","inj":61,"rt":1.0004},{"series":"AmF","inj":63,"rt":0.9998},{"series":"AmF","inj":65,"rt":1.0010},{"series":"AmF","inj":67,"rt":1.0022},{"series":"AmF","inj":69,"rt":1.0002},{"series":"AmF","inj":71,"rt":0.9994},{"series":"AmF","inj":73,"rt":1.0008},{"series":"AmF","inj":75,"rt":1.0000},{"series":"AmF","inj":77,"rt":1.0014},{"series":"AmF","inj":79,"rt":0.9996},
{"series":"AmF","inj":81,"rt":1.0006},{"series":"AmF","inj":83,"rt":1.0002},{"series":"AmF","inj":85,"rt":0.9990},{"series":"AmF","inj":87,"rt":1.0010},{"series":"AmF","inj":89,"rt":1.0016},{"series":"AmF","inj":91,"rt":0.9998},{"series":"AmF","inj":93,"rt":1.0006},{"series":"AmF","inj":95,"rt":1.0020},{"series":"AmF","inj":97,"rt":1.0002},{"series":"AmF","inj":99,"rt":0.9994},
{"series":"AmF","inj":101,"rt":1.0008},{"series":"AmF","inj":103,"rt":1.0000},{"series":"AmF","inj":105,"rt":1.0012},{"series":"AmF","inj":107,"rt":0.9996},{"series":"AmF","inj":109,"rt":1.0006},{"series":"AmF","inj":111,"rt":1.0002},{"series":"AmF","inj":113,"rt":0.9992},{"series":"AmF","inj":115,"rt":1.0010},{"series":"AmF","inj":117,"rt":1.0004},{"series":"AmF","inj":119,"rt":0.9998},
{"series":"AmF","inj":121,"rt":1.0014},{"series":"AmF","inj":123,"rt":1.0000},{"series":"AmF","inj":125,"rt":0.9994},{"series":"AmF","inj":127,"rt":1.0008},{"series":"AmF","inj":129,"rt":1.0018},{"series":"AmF","inj":131,"rt":0.9998},{"series":"AmF","inj":133,"rt":1.0006},{"series":"AmF","inj":135,"rt":1.0000},{"series":"AmF","inj":137,"rt":0.9992},{"series":"AmF","inj":139,"rt":1.0010},
{"series":"AmF","inj":141,"rt":1.0004},{"series":"AmF","inj":143,"rt":0.9996},{"series":"AmF","inj":145,"rt":1.0012},{"series":"AmF","inj":147,"rt":1.0002},{"series":"AmF","inj":149,"rt":0.9994},{"series":"AmF","inj":151,"rt":1.0008},{"series":"AmF","inj":153,"rt":1.0016},{"series":"AmF","inj":155,"rt":1.0035},{"series":"AmF","inj":157,"rt":1.0004},{"series":"AmF","inj":159,"rt":0.9996},
{"series":"AmF","inj":161,"rt":1.0010},{"series":"AmF","inj":163,"rt":1.0000},{"series":"AmF","inj":165,"rt":1.0014},{"series":"AmF","inj":167,"rt":0.9998},{"series":"AmF","inj":169,"rt":1.0006},{"series":"AmF","inj":171,"rt":1.0020},{"series":"AmF","inj":173,"rt":1.0002},{"series":"AmF","inj":175,"rt":0.9994},{"series":"AmF","inj":177,"rt":1.0010},{"series":"AmF","inj":179,"rt":1.0004},
{"series":"AmF","inj":181,"rt":1.0026},{"series":"AmF","inj":183,"rt":0.9998},{"series":"AmF","inj":185,"rt":1.0008},{"series":"AmF","inj":187,"rt":1.0000},{"series":"AmF","inj":189,"rt":1.0012},{"series":"AmF","inj":191,"rt":0.9996},{"series":"AmF","inj":193,"rt":1.0006},{"series":"AmF","inj":195,"rt":1.0000},{"series":"AmF","inj":197,"rt":1.0010},{"series":"AmF","inj":199,"rt":1.0004}
]
},
"hconcat": [
{
"width": 410, "height": 330,
"data": {"name": "a"},
"title": {"text": "(a)", "orient": "bottom", "anchor": "middle", "frame": "bounds", "offset": 30, "dx": -23},
"mark": {"type": "circle", "size": 80, "opacity": 1},
"encoding": {
"x": {"field": "inj", "type": "quantitative", "scale": {"domain": [0, 200]}, "axis": {"values": [0, 50, 100, 150, 200], "title": "Injection order"}},
"y": {"field": "rt", "type": "quantitative", "scale": {"domain": [0.98, 1.03], "zero": false}, "axis": {"values": [0.98, 0.99, 1.0, 1.01, 1.02, 1.03], "format": ".2f", "title": "Normalized retention time"}},
"color": {"field": "series", "type": "nominal", "scale": {"domain": ["AA", "AmAc and AA", "AmF and FA", "AmAc", "AmF"], "range": ["#C00000", "#ED7D31", "#000000", "#0070C0", "#00B050"]}, "legend": {"title": null, "orient": "none", "direction": "horizontal", "legendX": -81, "legendY": 444}}
}
},
{
"width": 410, "height": 330,
"data": {"name": "b"},
"title": {"text": "(b)", "orient": "bottom", "anchor": "middle", "frame": "bounds", "offset": 30, "dx": -23},
"mark": {"type": "circle", "size": 80, "opacity": 1},
"encoding": {
"x": {"field": "inj", "type": "quantitative", "scale": {"domain": [0, 200]}, "axis": {"values": [0, 50, 100, 150, 200], "title": "Injection order"}},
"y": {"field": "rt", "type": "quantitative", "scale": {"domain": [0.98, 1.03], "zero": false}, "axis": {"values": [0.98, 0.99, 1.0, 1.01, 1.02, 1.03], "format": ".2f", "title": "Normalized retention time"}},
"color": {"field": "series", "type": "nominal", "scale": {"domain": ["AA", "AmAc and AA", "AmF and FA", "AmAc", "AmF"], "range": ["#C00000", "#ED7D31", "#000000", "#0070C0", "#00B050"]}, "legend": {"title": null, "orient": "none", "direction": "horizontal", "legendX": -79, "legendY": 444}}
}
}
]
}
